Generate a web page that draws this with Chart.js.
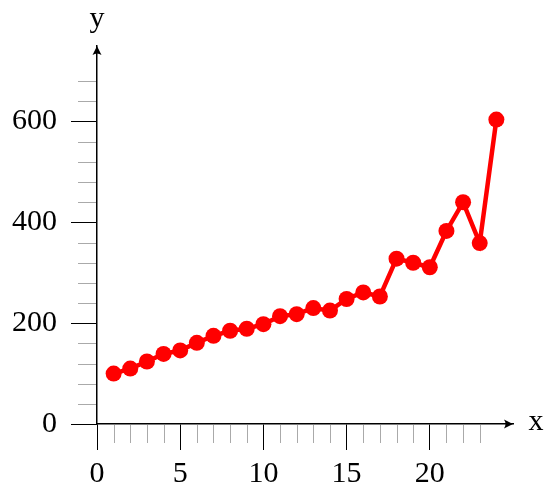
<!DOCTYPE html>
<html>
<head>
<meta charset="utf-8">
<script src="https://cdn.jsdelivr.net/npm/chart.js@4"></script>
<style>
  html, body { margin: 0; padding: 0; background: #fff; }
  #chart { display: block; }
</style>
</head>
<body>
<canvas id="chart" width="544" height="488"></canvas>
<script>
// data
const xValues = [1, 2, 3, 4, 5, 6, 7, 8, 9, 10, 11, 12, 13, 14, 15, 16, 17, 18, 19, 20, 21, 22, 23, 24];
const yValues = [100, 110, 124, 139, 146, 161, 175, 185, 189, 198, 214, 218, 230, 225, 248, 261, 253, 328, 320, 311, 383, 440, 359, 604];
const xMajorTicks = [0, 5, 10, 15, 20];
const yMajorTicks = [0, 200, 400, 600];
const xLastTick = 23;
const yLastTick = 680;

const serif = "'Liberation Serif', 'DejaVu Serif', serif";
const labelFont = { family: serif, size: 30 };

// arrow heads and axis names, drawn at the ends of the scales
const axisArrows = {
    id: 'axisArrows',
    afterDraw(chart) {
        const ctx = chart.ctx;
        const a = chart.chartArea;
        const x0 = chart.scales.x.getPixelForValue(0);
        const y0 = chart.scales.y.getPixelForValue(0);
        ctx.save();
        ctx.fillStyle = '#000';
        // x arrow
        ctx.beginPath();
        ctx.moveTo(a.right, y0);
        ctx.lineTo(a.right - 9, y0 - 4.5);
        ctx.quadraticCurveTo(a.right - 6, y0, a.right - 9, y0 + 4.5);
        ctx.closePath();
        ctx.fill();
        // y arrow
        ctx.beginPath();
        ctx.moveTo(x0, a.top);
        ctx.lineTo(x0 - 4.5, a.top + 9);
        ctx.quadraticCurveTo(x0, a.top + 6, x0 + 4.5, a.top + 9);
        ctx.closePath();
        ctx.fill();
        // axis names
        ctx.font = '30px ' + serif;
        ctx.textAlign = 'center';
        ctx.textBaseline = 'middle';
        ctx.fillText('x', a.right + 23, y0 - 2);
        ctx.fillText('y', x0, a.top - 27);
        // minor ticks, shorter than the major ones
        ctx.strokeStyle = '#aaaaaa';
        ctx.lineWidth = 1;
        chart.scales.x.ticks.forEach(t => {
            if (xMajorTicks.includes(t.value)) return;
            const px = Math.round(chart.scales.x.getPixelForValue(t.value)) + 0.5;
            ctx.beginPath();
            ctx.moveTo(px, y0 + 1);
            ctx.lineTo(px, y0 + 19);
            ctx.stroke();
        });
        chart.scales.y.ticks.forEach(t => {
            if (yMajorTicks.includes(t.value)) return;
            const py = Math.round(chart.scales.y.getPixelForValue(t.value)) + 0.5;
            ctx.beginPath();
            ctx.moveTo(x0 - 1, py);
            ctx.lineTo(x0 - 19, py);
            ctx.stroke();
        });
        ctx.restore();
    }
};

const points = xValues.map((x, i) => ({ x: x, y: yValues[i] }));

new Chart(document.getElementById('chart'), {
    type: 'line',
    data: {
        datasets: [{
            data: points,
            borderColor: '#ff0000',
            backgroundColor: '#ff0000',
            borderWidth: 4.5,
            pointRadius: 8,
            pointBorderWidth: 0,
            tension: 0,
            clip: false
        }]
    },
    options: {
        responsive: false,
        animation: false,
        events: [],
        layout: { padding: { top: 46, right: 31, left: 0, bottom: 0 } },
        plugins: { legend: { display: false }, tooltip: { enabled: false } },
        scales: {
            x: {
                type: 'linear',
                min: 0,
                max: 25,
                afterFit: s => { s.height = 64; },
                afterBuildTicks: s => { s.ticks = s.ticks.filter(t => t.value <= xLastTick); },
                ticks: {
                    stepSize: 1,
                    autoSkip: false,
                    maxRotation: 0,
                    padding: 6,
                    color: '#000',
                    font: labelFont,
                    callback: v => xMajorTicks.includes(v) ? String(v) : ''
                },
                grid: {
                    drawOnChartArea: false,
                    tickLength: 26,
                    tickWidth: 1,
                    tickColor: c => xMajorTicks.includes(c.tick.value) ? '#000' : 'rgba(0,0,0,0)'
                },
                border: { color: '#000', width: 1.5 }
            },
            y: {
                min: 0,
                max: 750,
                afterFit: s => { s.width = 97; },
                afterBuildTicks: s => { s.ticks = s.ticks.filter(t => t.value <= yLastTick); },
                ticks: {
                    stepSize: 40,
                    autoSkip: false,
                    padding: 14,
                    color: '#000',
                    font: labelFont,
                    callback: v => yMajorTicks.includes(v) ? String(v) : ''
                },
                grid: {
                    drawOnChartArea: false,
                    tickLength: 26,
                    tickWidth: 1,
                    tickColor: c => yMajorTicks.includes(c.tick.value) ? '#000' : 'rgba(0,0,0,0)'
                },
                border: { color: '#000', width: 1.5 }
            }
        }
    },
    plugins: [axisArrows]
});
</script>
</body>
</html>
